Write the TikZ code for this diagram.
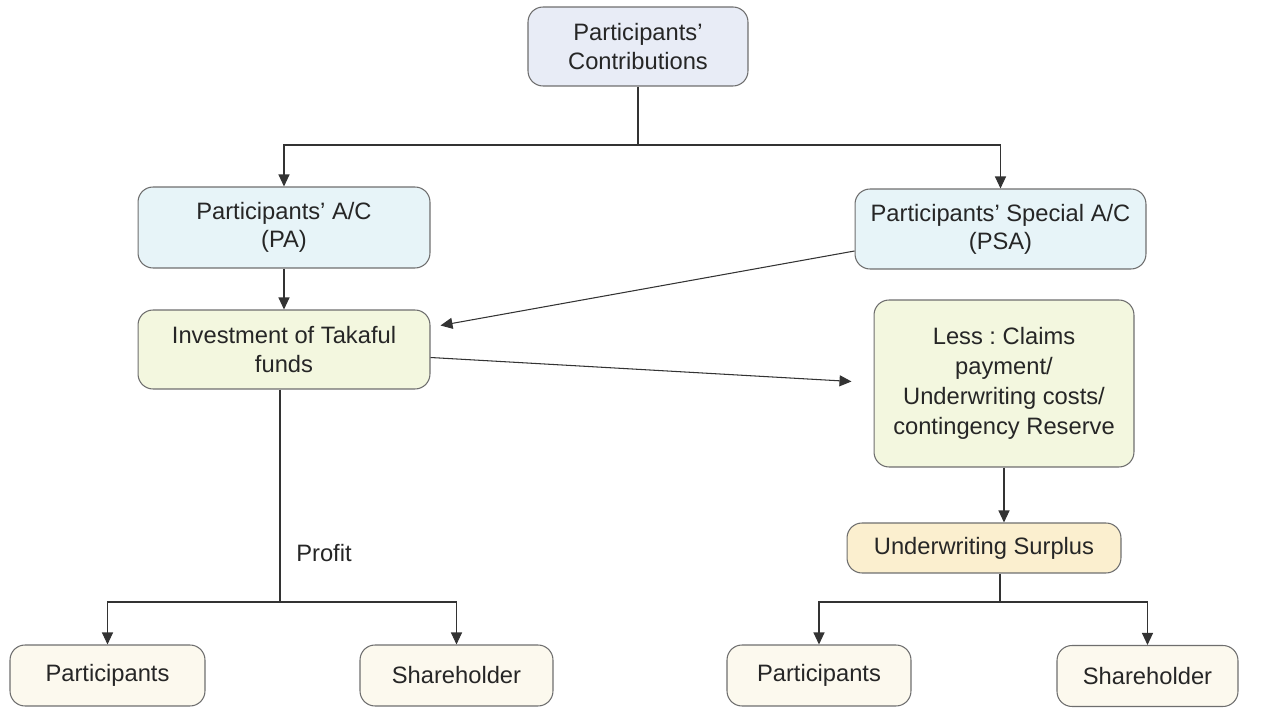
\documentclass[tikz,border=0pt]{standalone}
\usepackage{fontspec}
\setmainfont{Liberation Sans}
\usepackage{tikz}
\usetikzlibrary{arrows.meta, positioning, calc}
\frenchspacing

\definecolor{topfill}{HTML}{E8ECF6}
\definecolor{acfill}{HTML}{E7F4F8}
\definecolor{invfill}{HTML}{F3F7DF}
\definecolor{surfill}{HTML}{FBEFCF}
\definecolor{endfill}{HTML}{FCF9EE}
\definecolor{edge}{HTML}{6E6E6E}

\begin{document}
\begin{tikzpicture}[x=0.02cm, y=-0.02cm,
  box/.style={rectangle, rounded corners=3mm, draw=edge, line width=0.6pt, align=center, inner sep=0pt, font=\fontsize{13.5}{16}\selectfont, text=black!85},
  >={Triangle[length=2.4mm, width=2.2mm]}, line width=0.6pt]
\useasboundingbox (0,0) rectangle (1276,709);
\node[box, fill=topfill, minimum width=4.4cm, minimum height=1.58cm] (contrib) at (638,46.5) {Participants'\\Contributions};
\node[box, fill=acfill, minimum width=5.84cm, minimum height=1.62cm] (pa) at (284,227.5) {Participants' A/C\\(PA)};
\node[box, fill=acfill, minimum width=5.82cm, minimum height=1.6cm] (psa) at (1000.5,229) {Participants' Special A/C\\(PSA)};
\node[box, fill=invfill, minimum width=5.84cm, minimum height=1.58cm] (invest) at (284,349.5) {Investment of Takaful\\funds};
\node[box, fill=invfill, minimum width=5.2cm, minimum height=3.34cm, font=\fontsize{13.5}{17}\selectfont] (less) at (1004,383.5) {Less : Claims\\payment/\\Underwriting costs/\\contingency Reserve};
\node[box, fill=surfill, minimum width=5.48cm, minimum height=1.0cm] (surplus) at (984,548) {Underwriting Surplus};
\node[box, fill=endfill, minimum width=3.9cm, minimum height=1.22cm] (partL) at (107.5,675.5) {Participants};
\node[box, fill=endfill, minimum width=3.86cm, minimum height=1.22cm] (shareL) at (456.5,675.5) {Shareholder};
\node[box, fill=endfill, minimum width=3.68cm, minimum height=1.22cm] (partR) at (819,675.5) {Participants};
\node[box, fill=endfill, minimum width=3.62cm, minimum height=1.22cm] (shareR) at (1147.5,676) {Shareholder};
\node[font=\fontsize{13.5}{16}\selectfont, text=black!85] (profit) at (324,553) {Profit};

% top split
\coordinate (split) at (638,145);
\draw[draw=black!80] (contrib.south) -- (split);
\draw[->, draw=black!80] (split) -| (pa.north);
\draw[->, draw=black!80] (split) -| (psa.north);
\draw[->, draw=black!80] (pa) -- (invest);
\draw[->, draw=black!80] ($(psa.west)+(0,22)$) -- ($(invest.east)+(10,-24)$);
\draw[->, draw=black!80] ($(invest.east)+(0,8)$) -- ($(less.west)+(-22,-2)$);
\draw[->, draw=black!80] (less.south) -- (less.south |- surplus.north);

% profit split
\coordinate (psplit) at (280,602);
\draw[draw=black!80] (invest.south -| psplit) -- (psplit);
\draw[->, draw=black!80] (psplit) -| (partL.north);
\draw[->, draw=black!80] (psplit) -| (shareL.north);

% surplus split
\coordinate (ssplit) at (1000,602);
\draw[draw=black!80] (surplus.south -| ssplit) -- (ssplit);
\draw[->, draw=black!80] (ssplit) -| (partR.north);
\draw[->, draw=black!80] (ssplit) -| (shareR.north);
\end{tikzpicture}
\end{document}
